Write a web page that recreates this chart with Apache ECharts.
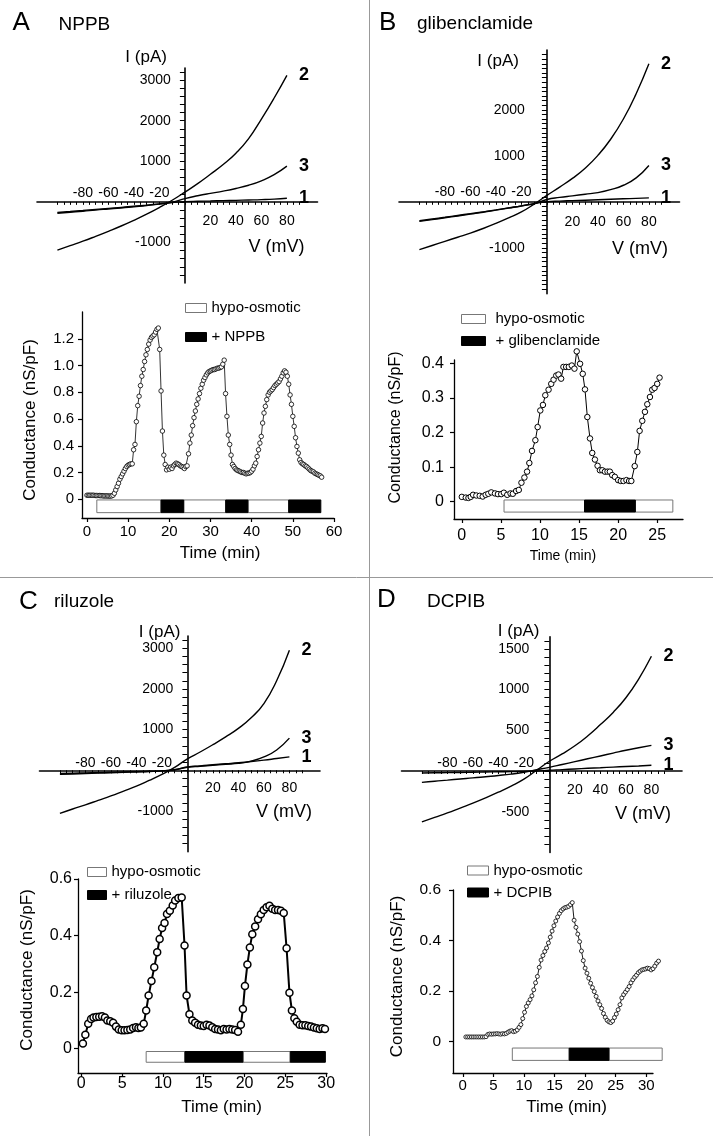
<!DOCTYPE html>
<html><head><meta charset="utf-8">
<script src="https://cdn.jsdelivr.net/npm/echarts@6/dist/echarts.min.js"></script>
<style>html,body{margin:0;padding:0;background:#fff}#c{width:713px;height:1136px}</style>
</head><body><div id="c"></div>
<script>
// ---------------- DATA ----------------
const ivVoltage = [-100,-90,-80,-70,-60,-50,-40,-30,-20,-10,0,10,20,30,40,50,60,70,80];
const ivPosLabels = [20,40,60,80];
const ivNegLabels = [-80,-60,-40,-20];

const ivA1 = [-262,-238,-212,-185,-160,-135,-108,-80,-50,-18,5,15,22,30,38,46,55,68,90];
const ivA2 = [-1190,-1080,-970,-850,-725,-595,-455,-305,-140,40,240,450,680,920,1200,1560,2040,2560,3120];
const ivA3 = [-280,-255,-230,-200,-175,-150,-120,-90,-55,-10,80,150,210,265,330,410,520,670,880];
const ivALabels = [3000,2000,1000,-1000];

const ivB1 = [-412,-375,-337,-297,-258,-218,-176,-132,-88,-40,0,15,25,35,45,55,65,75,85];
const ivB2 = [-1040,-950,-860,-770,-680,-580,-470,-350,-220,-50,140,320,510,730,1010,1360,1800,2350,3000];
const ivB3 = [-425,-388,-348,-308,-268,-228,-182,-136,-90,-40,50,95,130,165,200,265,360,520,790];
const ivBLabels = [2000,1000,-1000];

const ivC1 = [-80,-72,-64,-56,-48,-40,-32,-24,-15,15,80,110,135,160,185,215,250,290,330];
const ivC2 = [-1060,-950,-850,-740,-630,-510,-390,-250,-100,70,280,450,630,820,1030,1290,1640,2200,2950];
const ivC3 = [-100,-90,-80,-70,-60,-50,-40,-30,-15,15,75,100,125,150,170,225,330,500,790];
const ivCLabels = [3000,2000,1000,-1000];

const ivD1 = [-25,-22,-20,-18,-15,-12,-10,-8,-5,0,10,17,25,33,40,48,55,62,70];
const ivD2 = [-625,-570,-515,-455,-395,-330,-260,-185,-100,10,120,210,310,430,570,720,900,1130,1410];
const ivD3 = [-140,-125,-112,-98,-85,-70,-55,-38,-15,15,45,80,115,150,185,220,255,285,315];
const ivDLabels = [1500,1000,500,-500];

// Panel A conductance: sampled every 1/3 min from t = 0
const condAStart = 0, condAStep = 1/3;
const condA = [
 .03,.03,.03, .03,.03,.03, .028,.028,.028, .028,.027,.027, .025,.025,.025, .025,.024,.024,
 .025,.03,.045, .07,.095,.12, .15,.17,.19, .21,.23,.245, .255,.26,.265, .265,.37,.41,
 .58,.70,.77, .85,.92,.97, 1.03,1.08,1.12, 1.16,1.19,1.21, 1.22,1.23,1.25, 1.27,1.28,1.12,
 .81,.51,.33, .26,.22,.24, .225,.24,.23, .25,.26,.27, .265,.26,.25, .245,.24,.23,
 .245,.25,.34, .42,.48,.55, .61,.66,.71, .75,.79,.83, .86,.89,.91, .93,.945,.955,
 .96,.965,.97, .97,.975,.98, .98,.985,.99, 1.01,1.04,.79, .62,.48,.41, .33,.26,.245,
 .23,.22,.215, .21,.205,.2, .2,.195,.19, .195,.195,.2, .21,.225,.25, .27,.32,.37,
 .42,.47,.57, .645,.695,.745, .78,.80,.81, .82,.835,.85, .86,.87,.88, .9,.92,.945,
 .96,.95,.92, .86,.78,.71, .62,.545,.46, .395,.345,.295, .275,.265,.26, .25,.245,.235,
 .225,.215,.21, .205,.195,.19, .185,.18,.175, .165
];
const barsA = [[2.4,18,'hypo'],[18,23.5,'drug'],[23.5,33.7,'hypo'],[33.7,39.1,'drug'],[39.1,49,'hypo'],[49,56.8,'drug']];

// Panel B conductance
const condBTime = [0,0.51,0.85,1.14,1.44,1.86,2.29,2.67,3.05,3.39,3.77,4.24,4.62,5.04,5.38,5.81,6.23,6.53,6.95,7.29,
 7.63,8.01,8.35,8.64,8.98,9.41,9.7,10.04,10.38,10.68,11.1,11.44,11.74,12.08,12.37,12.71,13.0,13.35,13.69,14.07,
 14.41,14.7,15.13,15.47,15.76,16.06,16.4,16.69,17.03,17.37,17.67,17.97,18.31,18.64,18.94,19.24,19.58,20.0,20.34,20.68,
 21.06,21.4,21.69,22.12,22.46,22.75,23.09,23.43,23.73,24.07,24.36,24.66,25.0,25.3];
const condBValue = [.014,.012,.011,.014,.02,.018,.017,.015,.02,.023,.027,.024,.022,.022,.026,.02,.024,.023,.031,.034,
 .055,.07,.087,.112,.147,.178,.216,.264,.28,.308,.324,.341,.353,.365,.368,.356,.39,.39,.39,.394,
 .385,.435,.399,.37,.325,.245,.183,.141,.122,.104,.091,.091,.087,.087,.087,.077,.072,.0625,.06,.06,
 .0625,.06,.06,.103,.144,.205,.234,.26,.282,.303,.324,.329,.341,.359];
const barsB = [[5.4,15.7,'hypo'],[15.7,22.2,'drug'],[22.2,27,'hypo']];

// Panel C conductance
const condCTime = [.2,.5,.85,1.2,1.5,1.85,2.2,2.55,2.9,3.2,3.55,3.9,4.25,4.6,4.95,5.3,5.65,6.0,6.35,6.7,
 7.0,7.3,7.65,7.95,8.25,8.6,8.94,9.3,9.6,9.9,10.2,10.5,10.85,11.2,11.5,11.9,12.3,12.65,12.9,13.25,
 13.6,13.95,14.3,14.65,15.0,15.35,15.7,16.05,16.4,16.75,17.1,17.45,17.8,18.15,18.5,18.85,19.2,19.55,19.8,20.05,
 20.35,20.65,20.95,21.3,21.65,22.0,22.35,22.7,23.05,23.4,23.75,24.1,24.45,24.8,25.15,25.5,25.8,26.1,26.4,26.75,
 27.1,27.45,27.8,28.15,28.5,28.85,29.2,29.55,29.85];
const condCValue = [.018,.049,.088,.105,.11,.112,.113,.115,.11,.1,.097,.092,.078,.068,.065,.065,.066,.068,.073,.076,
 .073,.075,.088,.135,.188,.239,.288,.341,.388,.427,.444,.476,.488,.506,.524,.533,.535,.365,.188,.122,
 .1,.092,.085,.082,.08,.085,.082,.076,.07,.068,.065,.07,.068,.07,.068,.066,.06,.085,.14,.222,
 .298,.358,.405,.432,.458,.475,.49,.5,.505,.495,.49,.49,.488,.48,.355,.198,.135,.108,.095,.085,
 .083,.083,.08,.078,.075,.072,.07,.072,.07];
const barsC = [[7.95,12.7,'hypo'],[12.7,19.8,'drug'],[19.8,25.6,'hypo'],[25.6,29.9,'drug']];

// Panel D conductance: sampled every 0.3 min from t = 0.5
const condDStart = 0.5, condDStep = 0.3;
const condD = [
 .017,.017,.017,.017,.017,.017,.017,.017,.017,.017,
 .017,.018,.027,.029,.028,.029,.029,.03,.029,.028,
 .03,.029,.031,.036,.04,.042,.038,.04,.045,.055,
 .066,.09,.115,.138,.152,.165,.18,.204,.232,.257,
 .293,.322,.34,.356,.37,.39,.413,.437,.458,.477,
 .493,.507,.518,.525,.53,.532,.535,.542,.55,.48,
 .452,.425,.395,.358,.32,.29,.27,.25,.23,.213,
 .197,.178,.16,.145,.13,.11,.095,.083,.077,.074,
 .08,.094,.108,.125,.145,.172,.185,.195,.205,.217,
 .232,.244,.254,.262,.272,.278,.283,.285,.287,.29,
 .288,.283,.288,.298,.31,.318
];
const barsD = [[8.1,17.4,'hypo'],[17.4,23.9,'drug'],[23.9,32.6,'hypo']];

const condTicksA = [0,10,20,30,40,50,60];
const condYTicksA = [0,0.2,0.4,0.6,0.8,1.0,1.2];
const condTicksB = [0,5,10,15,20,25];
const condYTicksB = [0,0.1,0.2,0.3,0.4];
const condTicks30 = [0,5,10,15,20,25,30];
const condYTicks06 = [0,0.2,0.4,0.6];

// ---------------- BUILD ----------------
const FONT = '"Liberation Sans", Arial, Helvetica, sans-serif';
const grids = [], xAxes = [], yAxes = [], series = [], legends = [];
function stepList(a, b, s) { const r = []; for (let k = 0; a + k * s <= b + 1e-9; k++) r.push(+(a + k * s).toFixed(4)); return r; }
const plain = v => String(v);

function ivPanel(p) {
  const gi = grids.length;
  grids.push({left: p.left, top: p.top, width: p.width, height: p.height});
  const yr = p.yMax - p.yMin, xr = p.xMax - p.xMin;
  const zb = p.height * (0 - p.yMin) / yr, zt = p.height * p.yMax / yr, zl = p.width * (0 - p.xMin) / xr;
  const xi = xAxes.length, yi = yAxes.length;
  const lineStyle = {color: '#000', width: 1.6};
  const lbl = {color: '#000', fontSize: 14, fontFamily: FONT, formatter: plain};
  xAxes.push({type: 'value', gridIndex: gi, position: 'bottom', offset: -zb, min: p.xMin, max: p.xMax,
    axisLine: {show: true, onZero: false, lineStyle},
    axisTick: {show: true, customValues: stepList(-100, 90, 5), length: 3, lineStyle: {color: '#000', width: 1}},
    axisLabel: Object.assign({customValues: ivPosLabels, margin: p.posMargin}, lbl),
    splitLine: {show: false},
    name: 'V (mV)', nameLocation: 'end', nameGap: p.vGap,
    nameTextStyle: {color: '#000', fontSize: 18, fontFamily: FONT, align: 'right', verticalAlign: 'top', padding: [p.vPad, 0, 0, 0]}});
  xAxes.push({type: 'value', gridIndex: gi, position: 'top', offset: -zt, min: p.xMin, max: p.xMax,
    axisLine: {show: false, onZero: false}, axisTick: {show: false},
    axisLabel: Object.assign({customValues: ivNegLabels, margin: p.negMargin}, lbl),
    splitLine: {show: false}});
  yAxes.push({type: 'value', gridIndex: gi, position: 'left', offset: -zl, min: p.yMin, max: p.yMax,
    axisLine: {show: true, onZero: false, lineStyle},
    axisTick: {show: true, customValues: p.yTicks, length: 5, lineStyle: {color: '#000', width: 1}},
    axisLabel: Object.assign({customValues: p.yLabels, margin: p.yMargin}, lbl),
    splitLine: {show: false},
    name: 'I (pA)', nameLocation: 'end', nameGap: p.iGap,
    nameTextStyle: {color: '#000', fontSize: 17, fontFamily: FONT, align: 'right', verticalAlign: 'middle', padding: [0, p.iPad, 0, 0]}});
  p.curves.forEach(c => series.push({type: 'line', xAxisIndex: xi, yAxisIndex: yi,
    data: ivVoltage.map((v, k) => [v, c[1][k]]), smooth: true, symbol: 'none', silent: true,
    lineStyle: {color: '#000', width: 1.4},
    endLabel: {show: true, formatter: c[0], color: '#000', fontSize: 18, fontWeight: 'bold', fontFamily: FONT, distance: 12}}));
}

function condPanel(p) {
  const gi = grids.length;
  grids.push({left: p.left, top: p.top, width: p.width, height: p.height});
  const xi = xAxes.length, yi = yAxes.length;
  const lineStyle = {color: '#000', width: 1.3};
  xAxes.push({type: 'value', gridIndex: gi, min: p.xMin, max: p.xMax,
    axisLine: {onZero: false, lineStyle},
    axisTick: {customValues: p.xTicks, length: 4, lineStyle: {color: '#000', width: 1.2}},
    axisLabel: {customValues: p.xTicks, margin: p.xMargin, fontSize: p.xFont, color: '#000', fontFamily: FONT},
    splitLine: {show: false},
    name: 'Time (min)', nameLocation: 'middle', nameGap: p.tGap,
    nameTextStyle: {fontSize: p.tFont, color: '#000', fontFamily: FONT, padding: p.tPad}});
  yAxes.push({type: 'value', gridIndex: gi, min: p.yMin, max: p.yMax,
    axisLine: {onZero: false, lineStyle},
    axisTick: {customValues: p.yTicks, length: 4, lineStyle: {color: '#000', width: 1.2}},
    axisLabel: {customValues: p.yTicks, formatter: v => v === 0 ? '0' : v.toFixed(1), margin: p.yMargin, fontSize: p.yFont, color: '#000', fontFamily: FONT},
    splitLine: {show: false},
    name: 'Conductance (nS/pF)', nameLocation: 'middle', nameGap: p.cGap,
    nameTextStyle: {fontSize: p.cFont, color: '#000', fontFamily: FONT, padding: p.cPad}});
  const mk = (name, kind, fill, stroke) => series.push({type: 'custom', name, xAxisIndex: xi, yAxisIndex: yi,
    data: p.bars.filter(b => b[2] === kind).map(b => [b[0], b[1]]), encode: {x: [0, 1]}, clip: false, silent: true,
    itemStyle: {color: fill, borderColor: stroke},
    renderItem: (params, api) => {
      const a = api.coord([api.value(0), p.barTop]);
      const b = api.coord([api.value(1), p.barBottom]);
      return {type: 'rect', shape: {x: a[0], y: a[1], width: b[0] - a[0], height: b[1] - a[1]},
        style: {fill, stroke, lineWidth: 1}};
    }});
  mk('hypo-osmotic', 'hypo', '#fff', '#777');
  mk(p.drug, 'drug', '#000', '#000');
  series.push({type: 'line', xAxisIndex: xi, yAxisIndex: yi, data: p.points, z: 3,
    symbol: 'circle', symbolSize: p.sym, showSymbol: true, clip: false, silent: true,
    itemStyle: {color: '#fff', borderColor: '#000', borderWidth: p.bw},
    lineStyle: {color: '#000', width: p.lw}});
  legends.push({orient: 'vertical', left: p.legLeft, top: p.legTop, itemWidth: p.legW, itemHeight: 9,
    itemGap: p.legGap, padding: 0, icon: 'rect', selectedMode: false,
    textStyle: {fontSize: 15, color: '#000', fontFamily: FONT, padding: p.legTextPad || 0},
    data: [{name: 'hypo-osmotic', itemStyle: {color: '#fff', borderColor: '#777', borderWidth: 1}},
           {name: p.drug, itemStyle: {color: '#000', borderColor: '#000', borderWidth: 1}}]});
}

// IV panels
ivPanel({left: 37, top: 68, width: 280.5, height: 215, xMin: -116, xMax: 104, yMin: -2000, yMax: 3300,
  yTicks: stepList(-1800, 3200, 200), yLabels: ivALabels, posMargin: 12, negMargin: 2, yMargin: 14,
  vGap: -13, vPad: 36, iGap: 10.5, iPad: 18, curves: [['2', ivA2], ['3', ivA3], ['1', ivA1]]});
ivPanel({left: 399, top: 50, width: 280.5, height: 243.8, xMin: -116, xMax: 104, yMin: -2000, yMax: 3300,
  yTicks: stepList(-1900, 3200, 100), yLabels: ivBLabels, posMargin: 13, negMargin: 3, yMargin: 22,
  vGap: -11.5, vPad: 38, iGap: -11, iPad: 28, curves: [['2', ivB2], ['3', ivB3], ['1', ivB1]]});
ivPanel({left: 39.5, top: 636, width: 280.5, height: 215.7, xMin: -116, xMax: 104, yMin: -2000, yMax: 3300,
  yTicks: stepList(-1800, 3200, 200), yLabels: ivCLabels, posMargin: 11, negMargin: 0, yMargin: 14,
  vGap: -8, vPad: 33, iGap: 2.5, iPad: 7, curves: [['2', ivC2], ['3', ivC3], ['1', ivC1]]});
ivPanel({left: 401.5, top: 636.7, width: 280.5, height: 215.7, xMin: -116, xMax: 104, yMin: -1000, yMax: 1650,
  yTicks: stepList(-900, 1600, 100), yLabels: ivDLabels, posMargin: 12, negMargin: 1, yMargin: 20,
  vGap: -11, vPad: 34, iGap: 5.5, iPad: 10, curves: [['2', ivD2], ['3', ivD3], ['1', ivD1]]});

// Conductance panels
condPanel({left: 82, top: 312, width: 252, height: 206, xMin: -1.2, xMax: 60, yMin: -0.14, yMax: 1.4,
  xTicks: condTicksA, yTicks: condYTicksA, xFont: 15, yFont: 15, tFont: 17, cFont: 17,
  xMargin: 6, yMargin: 8, tGap: 26.5, tPad: [0, 0, 0, 24], cGap: 43, cPad: [0, 10, 0, 0],
  bars: barsA, barTop: -0.005, barBottom: -0.1, drug: '+ NPPB',
  points: condA.map((v, i) => [condAStart + i * condAStep, v]), sym: 4.5, bw: 0.8, lw: 0.8,
  legLeft: 185, legTop: 300.5, legW: 21, legGap: 14});
condPanel({left: 454, top: 360, width: 229, height: 159, xMin: -1, xMax: 28.3, yMin: -0.05, yMax: 0.41,
  xTicks: condTicksB, yTicks: condYTicksB, xFont: 16, yFont: 16, tFont: 14, cFont: 16,
  xMargin: 9, yMargin: 10, tGap: 30, tPad: [0, 11, 0, 0], cGap: 50, cPad: [0, 0, 0, 24],
  bars: barsB, barTop: 0.005, barBottom: -0.03, drug: '+ glibenclamide',
  points: condBTime.map((t, i) => [t, condBValue[i]]), sym: 5.5, bw: 1, lw: 1,
  legLeft: 461, legTop: 311.5, legW: 24, legGap: 7, legTextPad: [0, 0, 0, 5]});
condPanel({left: 78, top: 879, width: 249, height: 194, xMin: -0.4, xMax: 30.1, yMin: -0.086, yMax: 0.6,
  xTicks: condTicks30, yTicks: condYTicks06, xFont: 16, yFont: 16, tFont: 17, cFont: 17,
  xMargin: 3, yMargin: 6, tGap: 26, tPad: [0, 0, 0, 38], cGap: 42, cPad: [0, 0, 0, 12],
  bars: barsC, barTop: -0.01, barBottom: -0.048, drug: '+ riluzole',
  points: condCTime.map((t, i) => [t, condCValue[i]]), sym: 7, bw: 1.5, lw: 2,
  legLeft: 87, legTop: 864.5, legW: 19, legGap: 8});
condPanel({left: 453, top: 890, width: 200, height: 183, xMin: -1.6, xMax: 31.1, yMin: -0.126, yMax: 0.6,
  xTicks: condTicks30, yTicks: condYTicks06, xFont: 15, yFont: 15.5, tFont: 17, cFont: 17,
  xMargin: 5, yMargin: 12, tGap: 25.5, tPad: [0, 0, 0, 27], cGap: 47.5, cPad: [0, 0, 0, 10],
  bars: barsD, barTop: -0.027, barBottom: -0.076, drug: '+ DCPIB',
  points: condD.map((v, i) => [condDStart + i * condDStep, v]), sym: 4, bw: 0.8, lw: 0.9,
  legLeft: 467, legTop: 863, legW: 21, legGap: 7});

const tt = (text, left, top, size) => ({text, left, top, padding: 0,
  textStyle: {fontSize: size, fontWeight: 'normal', color: '#000', fontFamily: FONT}});

const option = {
  animation: false,
  backgroundColor: '#fff',
  textStyle: {fontFamily: FONT},
  title: [tt('A', 12.5, 9.6, 26), tt('NPPB', 58.5, 15.5, 19), tt('B', 379, 9.6, 26), tt('glibenclamide', 417, 14, 19),
          tt('C', 19, 589, 26), tt('riluzole', 54, 592, 19), tt('D', 377, 587, 26), tt('DCPIB', 427, 592, 19)],
  graphic: [
    {type: 'line', shape: {x1: 369.5, y1: 0, x2: 369.5, y2: 1136}, style: {stroke: '#999', lineWidth: 1}, silent: true},
    {type: 'line', shape: {x1: 0, y1: 577.5, x2: 713, y2: 577.5}, style: {stroke: '#999', lineWidth: 1}, silent: true}
  ],
  grid: grids, xAxis: xAxes, yAxis: yAxes, legend: legends, series: series
};
const chart = echarts.init(document.getElementById('c'), null, {renderer: 'canvas'});
chart.setOption(option);
</script></body></html>
